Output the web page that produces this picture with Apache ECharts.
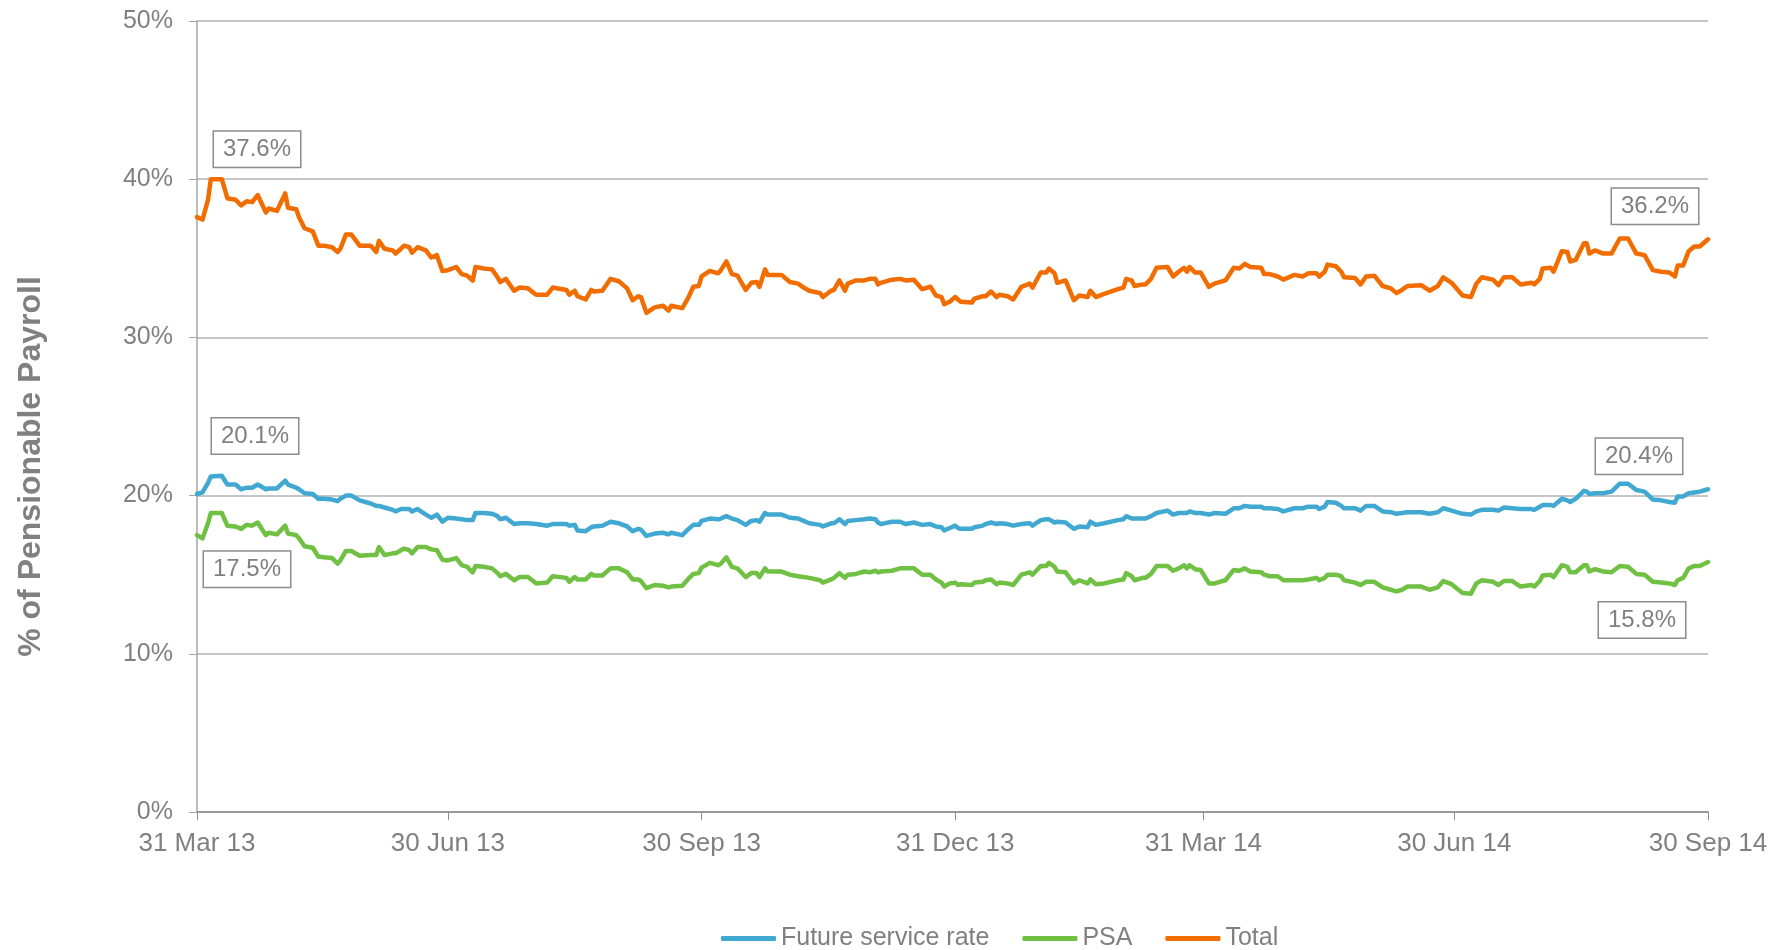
<!DOCTYPE html>
<html>
<head>
<meta charset="utf-8">
<title>Contribution rates</title>
<script src="https://cdn.jsdelivr.net/npm/echarts@6/dist/echarts.min.js"></script>
<style>
  html, body { margin: 0; padding: 0; background: #fff; }
  #chart { width: 1782px; height: 950px; }
</style>
</head>
<body>
<div id="chart"></div>
<script>
// days after 31 Mar 2013 for each reading
var dayOffsets = [
  0, 2, 4, 5, 9, 11, 14, 16, 18, 20, 22, 25, 26, 29, 32, 33, 36, 37, 39, 42,
  44, 46, 49, 51, 52, 54, 56, 59, 63, 65, 66, 68, 71, 72, 74, 75, 77, 78, 80, 83,
  85, 87, 89, 91, 94, 96, 98, 100, 101, 104, 107, 109, 110, 112, 115, 117, 120, 123, 127, 129,
  134, 135, 137, 138,
  141, 143, 144, 147, 150, 153, 156, 158, 160, 161, 163, 166, 169, 171, 172, 176, 178, 180, 182, 183,
  186, 189, 190, 192, 194, 196, 199, 201, 203, 204, 206, 207, 212, 215, 218, 220, 222, 226, 227, 230,
  231, 233, 235, 236, 239, 242, 244, 246, 247, 248, 252, 255, 257, 260, 263, 266, 268, 270, 271, 273,
  275, 276,
  277, 281, 282, 285, 286, 288, 290, 291, 294, 296, 299, 302, 303, 306, 308, 309, 311, 312, 315, 318,
  320, 323, 324, 326, 329, 334, 336, 337, 339, 340, 343, 344, 346, 348, 352, 354, 356, 358, 359, 360,
  362, 364, 367, 369, 373, 376, 378, 380, 382, 386, 387, 389, 392, 394, 398, 401, 403, 406, 407, 409,
  410, 413, 415,
  416, 420, 422, 424, 427, 430, 433, 435, 437, 439, 444, 447, 450, 452, 455, 459, 462, 464, 466, 470,
  472, 474, 477, 480, 484, 485, 487, 488, 491, 492, 495, 497, 498, 500, 503, 504, 505, 507, 510, 513,
  516, 519, 522, 525, 528, 531, 534, 536, 537, 539, 541, 543, 545, 548
];

var futureServiceRate = [
  20.1, 20.2, 20.8, 21.2, 21.25, 20.7, 20.7, 20.4, 20.5, 20.5, 20.7, 20.4, 20.45, 20.45, 20.95, 20.7, 20.5, 20.4, 20.15, 20.1,
  19.8, 19.8, 19.75, 19.65, 19.8, 20.0, 20.0, 19.7, 19.5, 19.35, 19.35, 19.25, 19.1, 19.0, 19.15, 19.15, 19.15, 19.0, 19.15, 18.8,
  18.6, 18.8, 18.35, 18.6, 18.55, 18.5, 18.45, 18.45, 18.9, 18.9, 18.85, 18.7, 18.5, 18.6, 18.2, 18.25, 18.25, 18.2, 18.1, 18.2,
  18.2, 18.1, 18.15, 17.8,
  17.75, 18.0, 18.05, 18.1, 18.35, 18.25, 18.05, 17.75, 17.9, 17.85, 17.45, 17.6, 17.65, 17.55, 17.65, 17.5, 17.85, 18.15, 18.15, 18.4,
  18.55, 18.5, 18.55, 18.7, 18.55, 18.45, 18.15, 18.4, 18.45, 18.35, 18.9, 18.8, 18.8, 18.6, 18.55, 18.4, 18.25, 18.15, 18.05, 18.25,
  18.25, 18.5, 18.2, 18.4, 18.45, 18.5, 18.55, 18.5, 18.3, 18.2, 18.35, 18.35, 18.2, 18.3, 18.15, 18.2, 18.05, 18.0, 17.8, 17.95,
  18.1, 17.95,
  17.9, 17.9, 18.0, 18.1, 18.2, 18.3, 18.2, 18.25, 18.2, 18.1, 18.2, 18.25, 18.1, 18.45, 18.5, 18.5, 18.3, 18.35, 18.3, 17.9,
  18.05, 18.0, 18.35, 18.15, 18.25, 18.45, 18.5, 18.7, 18.55, 18.55, 18.55, 18.55, 18.7, 18.9, 19.05, 18.8, 18.9, 18.9, 18.9, 19.0,
  18.9, 18.9, 18.8, 18.9, 18.85, 19.2, 19.2, 19.35, 19.3, 19.3, 19.2, 19.2, 19.15, 19.0, 19.2, 19.2, 19.3, 19.3, 19.15, 19.3,
  19.6, 19.55, 19.35,
  19.2, 19.2, 19.05, 19.35, 19.35, 19.0, 18.95, 18.85, 18.9, 18.95, 18.95, 18.85, 18.95, 19.2, 19.05, 18.85, 18.8, 19.0, 19.1, 19.1,
  19.05, 19.25, 19.2, 19.15, 19.15, 19.1, 19.3, 19.4, 19.4, 19.35, 19.8, 19.7, 19.6, 19.8, 20.3, 20.25, 20.1, 20.15, 20.15, 20.25,
  20.75, 20.75, 20.35, 20.25, 19.75, 19.7, 19.6, 19.55, 19.95, 19.95, 20.15, 20.2, 20.25, 20.4
];

var psa = [
  17.5, 17.3, 18.25, 18.9, 18.9, 18.1, 18.05, 17.9, 18.15, 18.1, 18.3, 17.5, 17.65, 17.55, 18.1, 17.6, 17.5, 17.3, 16.8, 16.7,
  16.15, 16.1, 16.05, 15.7, 15.9, 16.5, 16.5, 16.2, 16.25, 16.25, 16.75, 16.25, 16.35, 16.35, 16.55, 16.65, 16.55, 16.35, 16.75, 16.75,
  16.6, 16.55, 15.95, 15.9, 16.05, 15.6, 15.5, 15.15, 15.55, 15.5, 15.4, 15.1, 14.9, 15.05, 14.65, 14.85, 14.85, 14.45, 14.5, 14.9,
  14.8, 14.55, 14.85, 14.7,
  14.7, 15.05, 14.95, 14.95, 15.4, 15.4, 15.15, 14.7, 14.7, 14.6, 14.15, 14.35, 14.3, 14.2, 14.25, 14.3, 14.7, 15.05, 15.1, 15.45,
  15.75, 15.6, 15.7, 16.1, 15.5, 15.4, 14.85, 15.1, 15.1, 14.85, 15.4, 15.2, 15.2, 15.0, 14.9, 14.85, 14.8, 14.65, 14.5, 14.7,
  14.8, 15.1, 14.8, 15.0, 15.05, 15.2, 15.15, 15.25, 15.15, 15.2, 15.25, 15.4, 15.4, 15.4, 15.0, 15.0, 14.7, 14.5, 14.25, 14.45,
  14.5, 14.35,
  14.4, 14.35, 14.5, 14.55, 14.65, 14.7, 14.4, 14.5, 14.45, 14.35, 15.0, 15.15, 15.0, 15.55, 15.55, 15.75, 15.5, 15.2, 15.15, 14.45,
  14.65, 14.45, 14.7, 14.4, 14.45, 14.65, 14.7, 15.1, 14.9, 14.65, 14.8, 14.8, 15.05, 15.55, 15.55, 15.25, 15.4, 15.6, 15.4, 15.6,
  15.35, 15.3, 14.45, 14.45, 14.65, 15.3, 15.25, 15.4, 15.2, 15.15, 15.0, 14.9, 14.9, 14.65, 14.65, 14.65, 14.7, 14.8, 14.65, 14.8,
  15.0, 15.0, 14.9,
  14.65, 14.5, 14.35, 14.55, 14.55, 14.2, 14.05, 13.95, 14.05, 14.25, 14.25, 14.05, 14.2, 14.6, 14.4, 13.85, 13.8, 14.45, 14.65, 14.55,
  14.35, 14.6, 14.6, 14.25, 14.35, 14.25, 14.6, 14.95, 15.0, 14.85, 15.6, 15.5, 15.15, 15.15, 15.6, 15.6, 15.2, 15.35, 15.2, 15.15,
  15.55, 15.5, 15.05, 15.0, 14.55, 14.5, 14.45, 14.35, 14.65, 14.8, 15.4, 15.55, 15.55, 15.8
];

var total = [
  37.6, 37.45, 38.7, 40.0, 40.0, 38.8, 38.7, 38.35, 38.6, 38.55, 39.0, 37.9, 38.15, 38.0, 39.1, 38.2, 38.1, 37.6, 36.9, 36.7,
  35.8, 35.8, 35.7, 35.4, 35.6, 36.5, 36.5, 35.8, 35.8, 35.4, 36.1, 35.6, 35.5, 35.3, 35.6, 35.8, 35.7, 35.35, 35.7, 35.5,
  35.05, 35.2, 34.2, 34.25, 34.45, 34.0, 33.9, 33.6, 34.45, 34.35, 34.3, 33.8, 33.5, 33.7, 32.95, 33.15, 33.1, 32.7, 32.7, 33.15,
  33.0, 32.7, 32.95, 32.6,
  32.4, 33.0, 32.9, 32.95, 33.7, 33.55, 33.1, 32.35, 32.6, 32.55, 31.55, 31.9, 32.0, 31.7, 32.0, 31.85, 32.45, 33.2, 33.25, 33.85,
  34.2, 34.05, 34.25, 34.8, 34.0, 33.9, 33.0, 33.45, 33.5, 33.2, 34.3, 33.95, 33.95, 33.5, 33.4, 33.15, 32.95, 32.8, 32.55, 32.95,
  33.0, 33.6, 32.95, 33.4, 33.6, 33.6, 33.7, 33.7, 33.35, 33.45, 33.65, 33.7, 33.6, 33.65, 33.05, 33.2, 32.65, 32.55, 32.1, 32.25,
  32.55, 32.4,
  32.25, 32.2, 32.45, 32.6, 32.6, 32.9, 32.55, 32.7, 32.6, 32.4, 33.2, 33.4, 33.15, 34.1, 34.1, 34.35, 34.05, 33.45, 33.6, 32.35,
  32.65, 32.55, 32.95, 32.55, 32.75, 33.05, 33.15, 33.7, 33.6, 33.25, 33.35, 33.35, 33.7, 34.4, 34.45, 33.85, 34.15, 34.4, 34.15, 34.45,
  34.1, 34.1, 33.2, 33.4, 33.6, 34.4, 34.35, 34.65, 34.45, 34.4, 34.0, 34.0, 33.85, 33.65, 33.95, 33.85, 34.05, 34.05, 33.85, 34.15,
  34.6, 34.5, 34.15,
  33.8, 33.75, 33.35, 33.85, 33.9, 33.25, 33.1, 32.8, 33.0, 33.25, 33.3, 32.95, 33.25, 33.8, 33.45, 32.65, 32.55, 33.4, 33.8, 33.65,
  33.3, 33.8, 33.8, 33.35, 33.45, 33.35, 33.7, 34.35, 34.4, 34.15, 35.45, 35.4, 34.8, 34.9, 35.95, 35.95, 35.3, 35.5, 35.3, 35.3,
  36.25, 36.25, 35.3, 35.2, 34.25, 34.15, 34.1, 33.85, 34.55, 34.55, 35.45, 35.75, 35.75, 36.2
];

// quarter ends shown on the x axis
var tickDates = ['2013-03-31', '2013-06-30', '2013-09-30', '2013-12-31', '2014-03-31', '2014-06-30', '2014-09-30'];
var months = ['Jan', 'Feb', 'Mar', 'Apr', 'May', 'Jun', 'Jul', 'Aug', 'Sep', 'Oct', 'Nov', 'Dec'];

var startUTC = Date.UTC(2013, 2, 31);
var DAY = 86400000;

function dateToDay(s) {
  var p = s.split('-');
  return Math.round((Date.UTC(+p[0], +p[1] - 1, +p[2]) - startUTC) / DAY);
}
function dayLabel(d) {
  var dt = new Date(startUTC + Math.round(d) * DAY);
  return dt.getUTCDate() + ' ' + months[dt.getUTCMonth()] + ' ' + String(dt.getUTCFullYear()).slice(2);
}
function pairs(values) {
  return values.map(function (v, i) { return [dayOffsets[i], v]; });
}

var tickDays = tickDates.map(dateToDay);
var grey = '#808080';
var last = dayOffsets.length - 1;

function endLabel(value, day, dx, dy) {
  return {
    coord: [day, value],
    value: value,
    label: { offset: [dx, dy] }
  };
}

function labelSetup(points) {
  return {
    symbol: 'rect',
    symbolSize: 1,
    silent: true,
    itemStyle: { color: 'rgba(0,0,0,0)' },
    label: {
      show: true,
      position: 'inside',
      formatter: function (p) { return p.value.toFixed(1) + '%'; },
      color: grey,
      fontSize: 24,
      fontFamily: 'Liberation Sans, Arial, sans-serif',
      backgroundColor: '#fff',
      borderColor: '#8c8c8c',
      borderWidth: 1.5,
      padding: [6, 9, 5, 9]
    },
    data: points
  };
}

var myChart = echarts.init(document.getElementById('chart'));
var option = {
  animation: false,
  textStyle: { fontFamily: 'Liberation Sans, Arial, sans-serif' },
  grid: { left: 197, right: 74, top: 21, bottom: 138 },
  legend: {
    left: 716,
    top: 921,
    icon: 'roundRect',
    itemWidth: 55,
    itemHeight: 5,
    itemGap: 33,
    textStyle: { color: grey, fontSize: 25 },
    data: ['Future service rate', 'PSA', 'Total']
  },
  xAxis: {
    type: 'value',
    min: tickDays[0],
    max: tickDays[tickDays.length - 1],
    axisLine: { lineStyle: { color: '#8c8c8c', width: 1.5 } },
    axisTick: { show: true, length: 8, customValues: tickDays, lineStyle: { color: '#8c8c8c' } },
    splitLine: { show: false },
    axisLabel: {
      customValues: tickDays,
      margin: 19,
      color: grey,
      fontSize: 26,
      hideOverlap: false,
      formatter: function (v) { return dayLabel(v); }
    }
  },
  yAxis: {
    type: 'value',
    min: 0,
    max: 50,
    interval: 10,
    name: '% of Pensionable Payroll',
    nameLocation: 'middle',
    nameGap: 150,
    nameTextStyle: { color: grey, fontSize: 32, fontWeight: 'bold', padding: [0, 100, 0, 0] },
    axisLine: { show: true, lineStyle: { color: '#a6a6a6', width: 1.5 } },
    axisTick: { show: true, length: 8, lineStyle: { color: '#a6a6a6' } },
    splitLine: { lineStyle: { color: '#b3b3b3', width: 1.5 } },
    axisLabel: { formatter: '{value}%', color: grey, fontSize: 25, margin: 24 }
  },
  series: [
    {
      name: 'Future service rate',
      type: 'line',
      symbol: 'none',
      color: '#41a8d1',
      lineStyle: { width: 4.5, cap: 'round', join: 'round' },
      data: pairs(futureServiceRate),
      markPoint: labelSetup([
        endLabel(futureServiceRate[0], dayOffsets[0], 58, -58),
        endLabel(futureServiceRate[last], dayOffsets[last], -69, -33)
      ])
    },
    {
      name: 'PSA',
      type: 'line',
      symbol: 'none',
      color: '#70c043',
      lineStyle: { width: 4.5, cap: 'round', join: 'round' },
      data: pairs(psa),
      markPoint: labelSetup([
        endLabel(psa[0], dayOffsets[0], 50, 34),
        endLabel(psa[last], dayOffsets[last], -66, 58)
      ])
    },
    {
      name: 'Total',
      type: 'line',
      symbol: 'none',
      color: '#f26d00',
      lineStyle: { width: 4.5, cap: 'round', join: 'round' },
      data: pairs(total),
      markPoint: labelSetup([
        endLabel(total[0], dayOffsets[0], 60, -68),
        endLabel(total[last], dayOffsets[last], -53, -33)
      ])
    }
  ]
};
myChart.setOption(option);
window.onresize = myChart.resize;
</script>
</body>
</html>
